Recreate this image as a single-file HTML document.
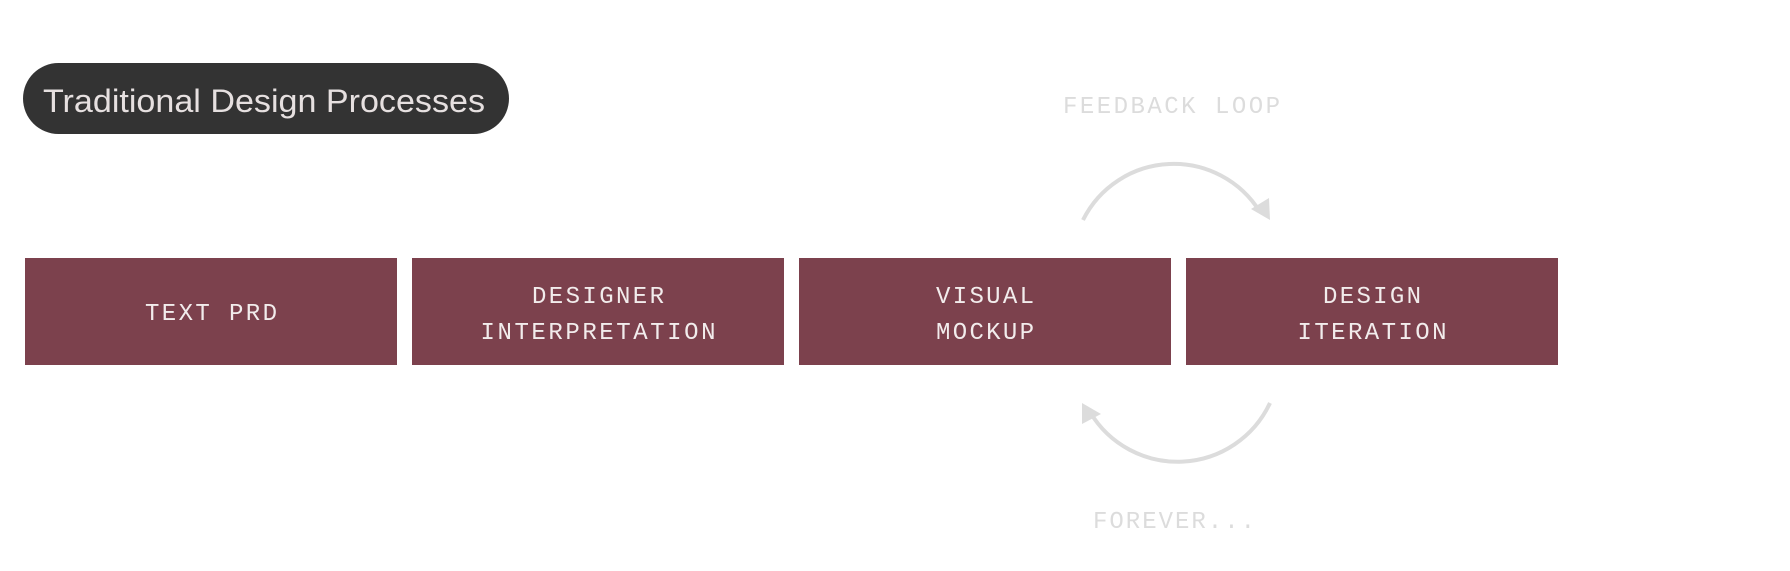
<!DOCTYPE html>
<html><head><meta charset="utf-8"><style>
html,body{margin:0;padding:0;background:#fff;}
svg{display:block;}
</style></head><body>
<svg width="1790" height="571" viewBox="0 0 1790 571" xmlns="http://www.w3.org/2000/svg">
<rect width="1790" height="571" fill="#ffffff"/>
<rect x="23" y="63" width="486" height="71" rx="35.5" fill="#333333"/>
<text x="43" y="112" font-family="Liberation Sans, sans-serif" font-size="32" fill="#e6e0e0" textLength="442" lengthAdjust="spacingAndGlyphs">Traditional Design Processes</text>

<g fill="#7c414d">
<rect x="25" y="258" width="372" height="107"/>
<rect x="412" y="258" width="372" height="107"/>
<rect x="799" y="258" width="372" height="107"/>
<rect x="1186" y="258" width="372" height="107"/>
</g>
<g font-family="Liberation Mono, monospace" font-size="24" fill="#f2ecec" text-anchor="middle" lengthAdjust="spacing">
<text x="211" y="320" textLength="132" lengthAdjust="spacing">TEXT PRD</text>
<text x="598" y="303" textLength="132" lengthAdjust="spacing">DESIGNER</text>
<text x="598" y="339" textLength="235" lengthAdjust="spacing">INTERPRETATION</text>
<text x="985" y="303" textLength="98" lengthAdjust="spacing">VISUAL</text>
<text x="985" y="339" textLength="98" lengthAdjust="spacing">MOCKUP</text>
<text x="1372" y="303" textLength="98" lengthAdjust="spacing">DESIGN</text>
<text x="1372" y="339" textLength="149" lengthAdjust="spacing">ITERATION</text>
</g>

<g font-family="Liberation Mono, monospace" font-size="24" fill="#dcdcdc" text-anchor="middle">
<text x="1171.5" y="113" textLength="217" lengthAdjust="spacing">FEEDBACK LOOP</text>
<text x="1174" y="528" textLength="162" lengthAdjust="spacing">FOREVER...</text>
</g>

<g fill="none" stroke="#dcdcdc" stroke-width="4">
<path d="M1083 220 A101.4 101.4 0 0 1 1260 212"/>
<path d="M1270 403 A102 102 0 0 1 1090 412"/>
</g>
<g fill="#dcdcdc">
<polygon points="1270,220 1251,209 1269,198"/>
<polygon points="1082,403 1101,414 1082,424"/>
</g>
</svg>
</body></html>
